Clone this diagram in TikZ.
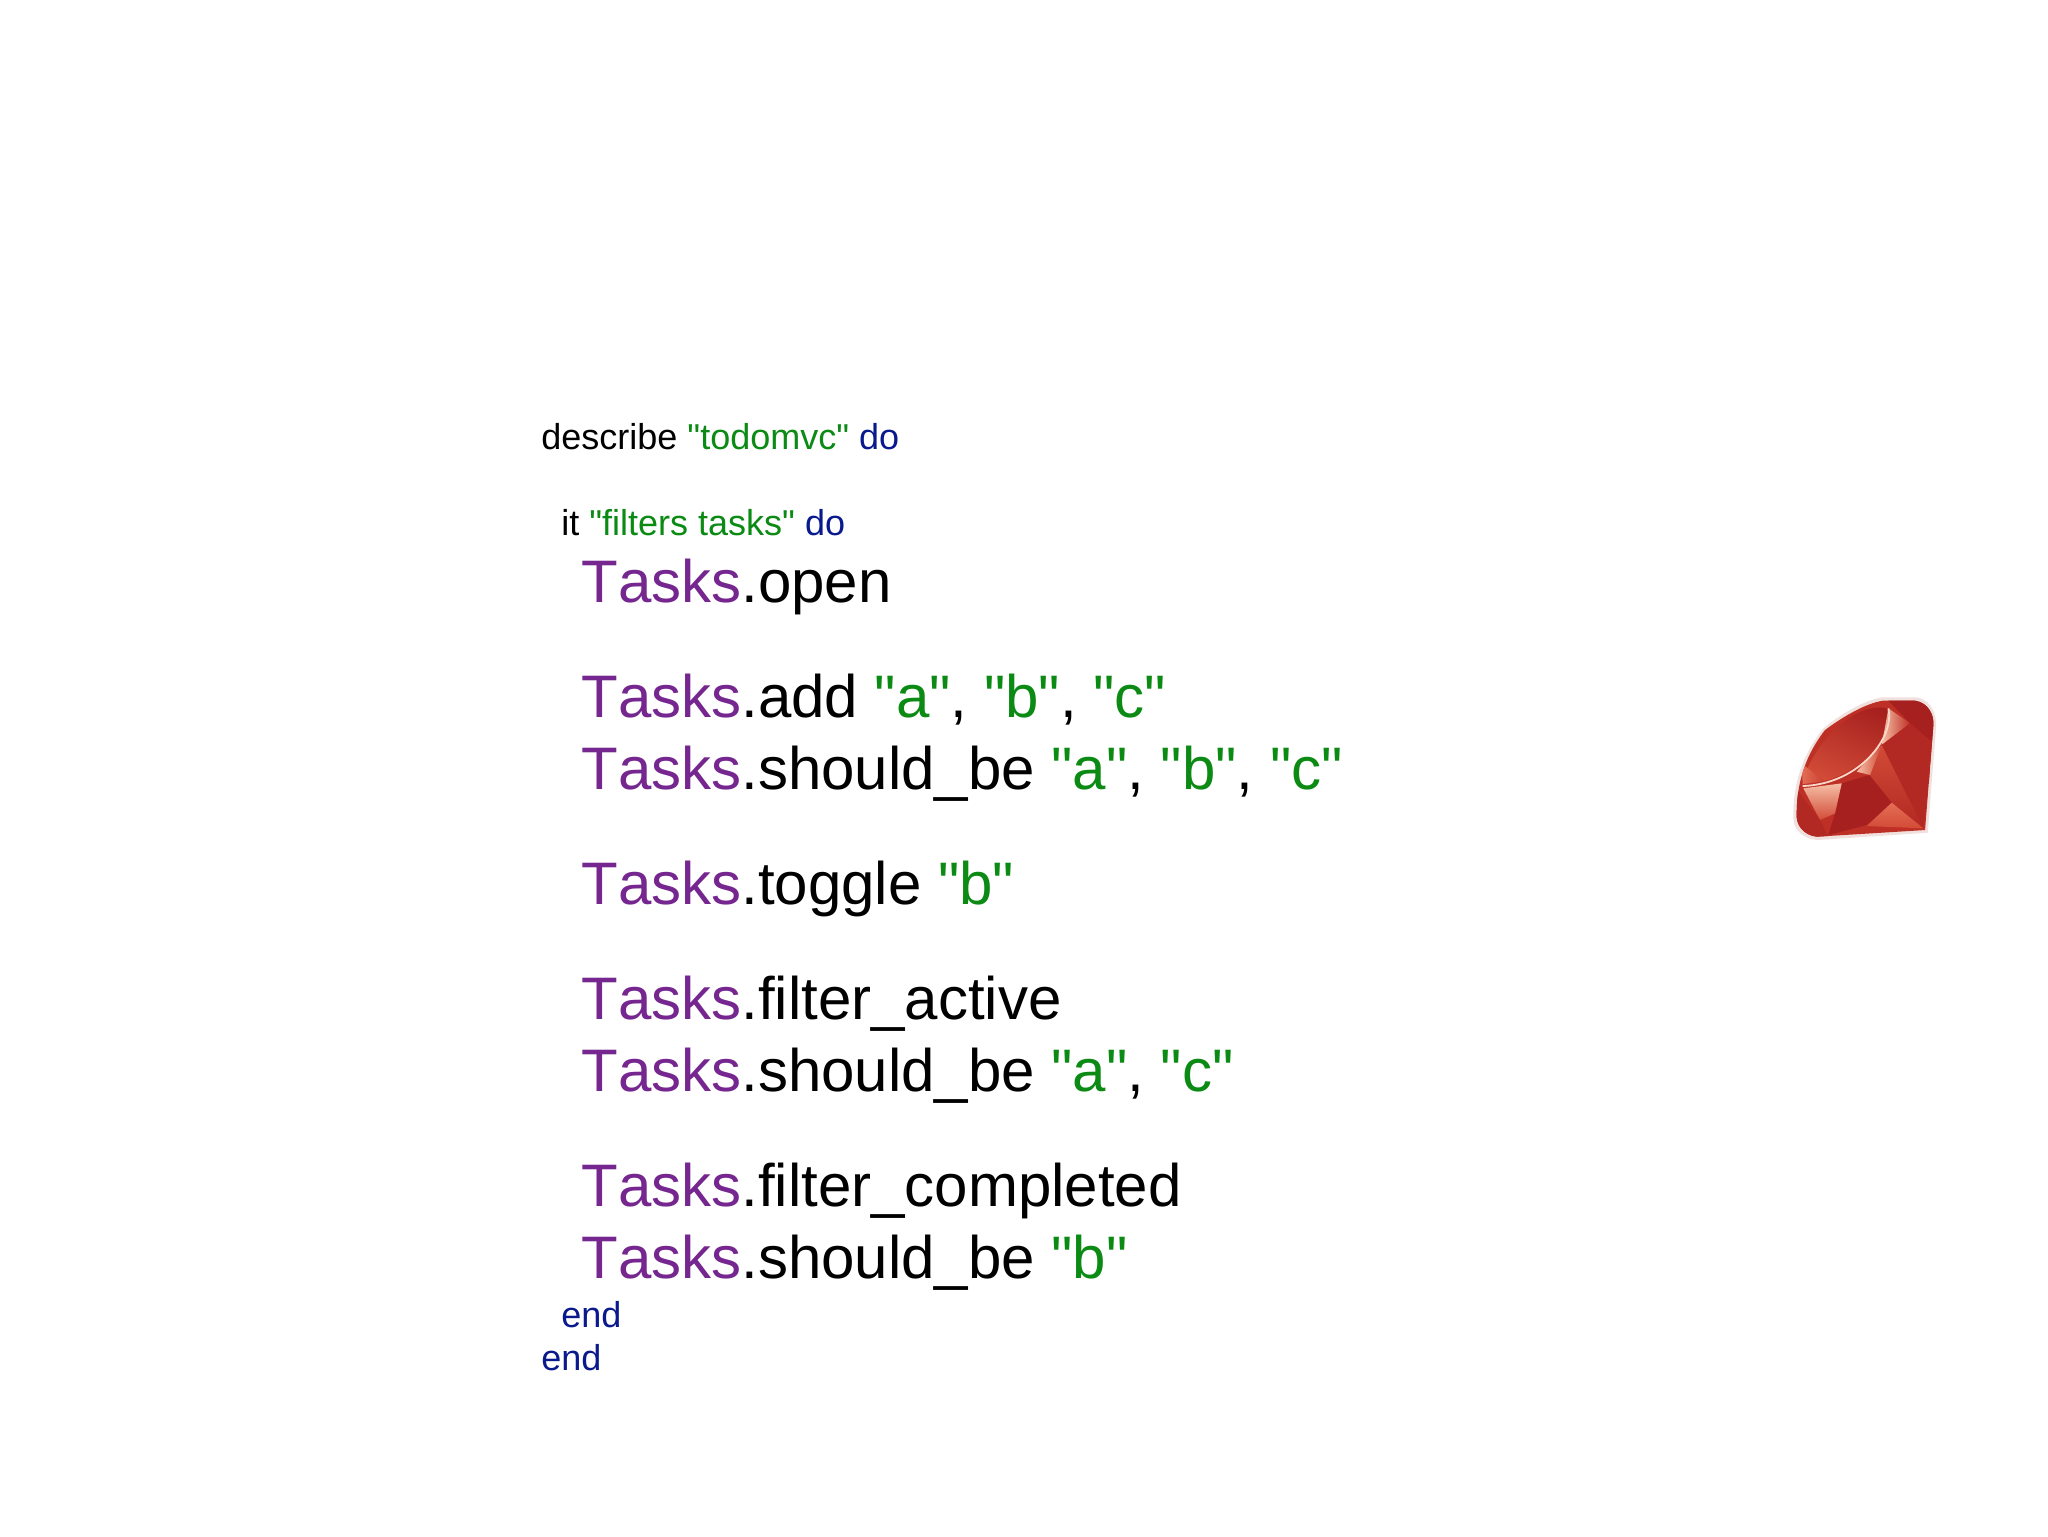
\documentclass[tikz,border=0pt]{standalone}
\usepackage{fontspec}
\setmainfont{Liberation Sans}
\newfontfamily\codefont[Kerning=Off]{Liberation Sans}
\definecolor{kwgreen}{HTML}{0B8A14}
\definecolor{kwblue}{HTML}{0A1A8C}
\definecolor{kwpurple}{HTML}{76268F}
\definecolor{gemA}{RGB}{190,48,38}
\definecolor{gemB}{RGB}{165,32,30}
\definecolor{gemC}{RGB}{210,75,55}
\definecolor{gemD}{RGB}{245,190,165}
\definecolor{gemE}{RGB}{178,40,34}
\definecolor{gemF}{RGB}{228,110,85}
\definecolor{gemRim}{RGB}{240,225,222}
\newcommand{\TK}{\textcolor{kwpurple}{Tasks}}
\newcommand{\GS}[1]{\textcolor{kwgreen}{"#1"}}
\newcommand{\BL}[1]{\textcolor{kwblue}{#1}}
\tikzset{
  small/.style={anchor=base west,inner sep=0pt,font=\codefont\fontsize{18}{18}\selectfont},
  big/.style={anchor=base west,inner sep=0pt,font=\codefont\fontsize{30}{30}\selectfont},
}
\begin{document}
\begin{tikzpicture}[x=0.5pt,y=-0.5pt]
\useasboundingbox (0,0) rectangle (2048,1536);
\fill[white] (0,0) rectangle (2048,1536);
\node[small] (l1) at (541,449) {describe \GS{todomvc} \BL{do}};
\node[small] (l2) at (561,535) {it \GS{filters tasks} \BL{do}};
\node[big] (l3) at (581,602) {\TK.open};
\node[big] (l4) at (581,717) {\TK.add \GS{a}, \GS{b}, \GS{c}};
\node[big] (l5) at (581,789) {\TK.should\_be \GS{a}, \GS{b}, \GS{c}};
\node[big] (l6) at (581,904) {\TK.toggle \GS{b}};
\node[big] (l7) at (581,1019) {\TK.filter\_active};
\node[big] (l8) at (581,1091) {\TK.should\_be \GS{a}, \GS{c}};
\node[big] (l9) at (581,1206) {\TK.filter\_completed};
\node[big] (l10) at (581,1278) {\TK.should\_be \GS{b}};
\node[small] (l11) at (561,1327) {\BL{end}};
\node[small] (l12) at (541,1370) {\BL{end}};
% ruby gem, in the 3x crop's coordinates
\begin{scope}[shift={(1760,680)},x=0.1667pt,y=-0.1667pt]
\fill[gemRim]
  (100,410) .. controls (100,330) and (115,240) .. (190,145)
  .. controls (250,95) and (320,60) .. (365,52) -- (470,52)
  .. controls (515,60) and (530,105) .. (528,140)
  -- (503,458) -- (170,480) .. controls (125,475) and (98,445) .. (100,410) -- cycle;
\path[clip] (110,400) .. controls (110,330) and (125,240) .. (195,150)
  .. controls (255,105) and (320,70) .. (368,62) -- (465,62)
  .. controls (505,68) and (522,105) .. (520,135)
  -- (495,450) -- (170,470) .. controls (130,465) and (107,435) .. (110,400) -- cycle;
\fill[gemA] (0,0) rectangle (600,540);
% table
\shade[top color=gemB,bottom color=gemC,shading angle=-25]
  (128,312) .. controls (145,215) and (270,60) .. (385,85)
  .. controls (400,165) and (300,305) .. (128,312) -- cycle;
\shade[left color=gemF,right color=gemC!80!gemB]
  (125,250) -- (128,312) -- (190,302) -- cycle;
% top right facets
\fill[gemB] (385,62) -- (520,62) -- (520,190) -- (450,130) -- cycle;
\shade[left color=gemD,right color=gemA]
  (385,85) -- (450,130) -- (365,195) -- cycle;
\fill[gemE] (450,130) -- (520,190) -- (490,445) -- (365,195) -- cycle;
% right lower
\shade[top color=gemC,bottom color=gemE]
  (365,195) -- (490,445) -- (395,368) -- (328,285) -- cycle;
\shade[left color=gemD,right color=gemC]
  (365,195) -- (335,225) -- (290,275) -- (330,285) -- cycle;
% lower facets
\fill[gemB] (245,310) -- (328,285) -- (395,368) -- (320,435) -- (205,465) -- (225,400) -- cycle;
\shade[top color=gemD,bottom color=gemC]
  (130,325) -- (245,310) -- (225,400) -- (180,420) -- cycle;
\shade[top color=gemF,bottom color=gemC]
  (395,368) -- (490,445) -- (320,438) -- cycle;
\fill[gemE] (112,330) -- (180,420) -- (205,470) -- (105,470) -- cycle;
% bright rim of table
\draw[line width=0.9pt,color=gemD!60!white]
  (128,318) .. controls (300,312) and (405,170) .. (385,85);
\end{scope}
\end{tikzpicture}
\end{document}
